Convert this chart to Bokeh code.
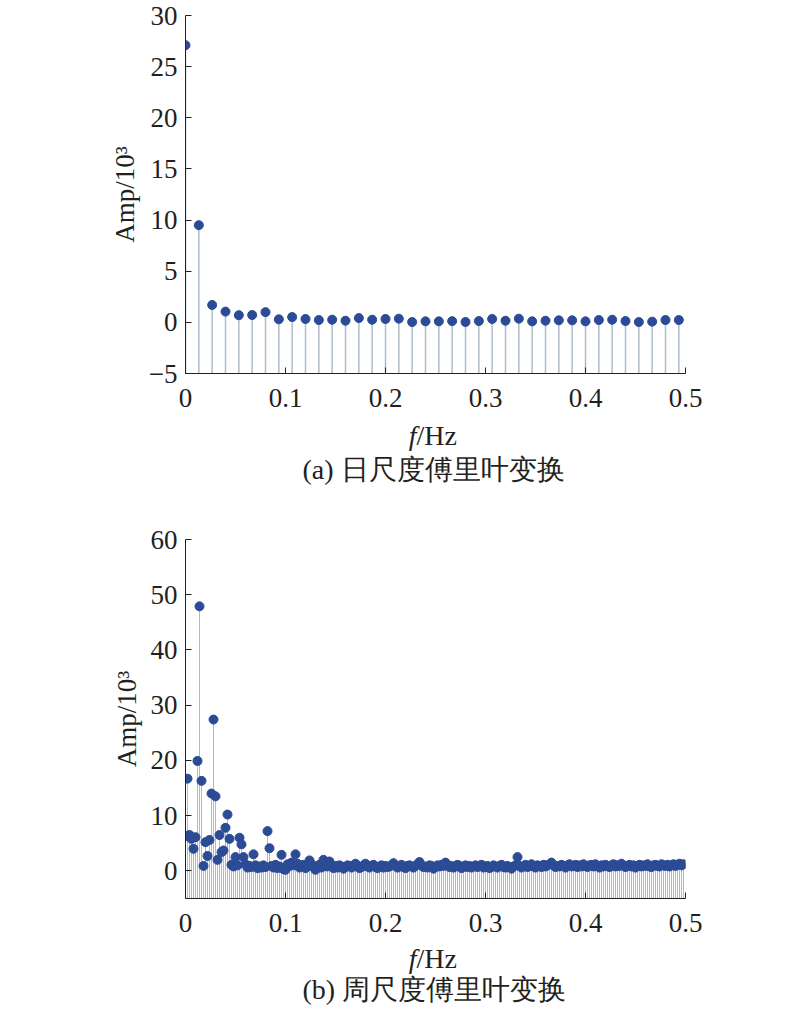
from bokeh.plotting import figure
from bokeh.models import FixedTicker, CustomJSTickFormatter, Range1d, ColumnDataSource
from bokeh.layouts import column
from bokeh.embed import file_html
from bokeh.resources import INLINE
from bokeh.core.properties import value

# ---- data ----
daily_step = 1 / 75
daily_amp = [27.1, 9.5, 1.7, 1.05, 0.7, 0.72, 1.0, 0.3, 0.52, 0.33,
             0.23, 0.26, 0.16, 0.42, 0.26, 0.33, 0.36, 0.03, 0.1, 0.1,
             0.12, 0.04, 0.13, 0.33, 0.16, 0.36, 0.1, 0.16, 0.2, 0.2,
             0.1, 0.23, 0.26, 0.13, 0.03, 0.07, 0.23, 0.23]

weekly_step = 0.002
weekly_amp = [
    6.3, 16.7, 6.5, 5.8, 4.0, 6.1, 19.9, 47.9, 16.3, 0.9,
    5.2, 2.7, 5.6, 14.0, 27.4, 13.5, 2.0, 6.5, 3.4, 3.7,
    7.8, 10.2, 5.8, 1.1, 0.8, 2.5, 1.0, 6.0, 4.8, 2.5,
    1.2, 0.6, 0.9, 0.7, 3.0, 1.0, 0.5, 0.8, 0.6, 1.0,
    0.7, 7.2, 4.1, 0.9, 0.6, 1.1, 0.5, 0.8, 2.9, 0.3,
    0.2, 1.2, 0.9, 1.5, 1.0, 3.0, 1.3, 0.6, 0.9, 1.1,
    0.5, 0.8, 1.9, 1.2, 0.7, 0.2, 0.9, 1.1, 0.6, 2.0,
    1.0, 0.8, 1.7, 1.1, 0.5, 0.9, 0.6, 1.0, 0.8, 0.4,
    0.7, 1.0, 0.9, 0.6, 0.8, 1.3, 0.9, 0.5, 0.7, 1.0,
    1.3, 0.8, 0.6, 0.9, 1.1, 0.7, 0.5, 0.8, 1.0, 0.6,
    0.9, 0.7, 0.8, 1.0, 1.4, 0.9, 0.6, 0.8, 1.1, 0.7,
    0.5, 0.9, 1.0, 0.8, 0.6, 0.9, 1.2, 1.6, 1.0, 0.7,
    0.8, 0.6, 1.0, 0.9, 0.4, 0.7, 1.0, 0.8, 1.1, 0.9,
    1.5, 1.0, 0.7, 0.9, 0.6, 0.8, 1.1, 0.9, 0.5, 0.8,
    1.0, 0.7, 0.9, 0.6, 0.8, 1.0, 0.7, 0.9, 1.1, 0.6,
    0.8, 0.9, 0.5, 0.7, 1.0, 0.8, 0.6, 0.9, 1.1, 0.7,
    0.6, 0.9, 0.7, 0.4, 0.8, 1.0, 2.5, 0.9, 0.6, 0.8,
    1.1, 0.7, 0.9, 1.2, 0.8, 0.6, 1.0, 0.9, 0.7, 1.1,
    0.8, 1.0, 1.2, 1.5, 1.0, 0.7, 0.9, 0.8, 1.1, 0.9,
    0.6, 1.0, 1.2, 0.8, 0.9, 1.1, 0.7, 1.0, 0.8, 1.2,
    0.9, 0.7, 1.0, 1.1, 0.8, 1.2, 0.9, 0.6, 1.0, 0.8,
    1.1, 0.9, 0.7, 1.0, 1.2, 0.8, 1.0, 0.9, 1.3, 1.0,
    0.7, 0.9, 1.1, 0.8, 1.0, 0.6, 0.9, 1.1, 0.8, 1.0,
    0.9, 1.2, 0.8, 0.7, 1.0, 1.1, 0.9, 0.8, 1.2, 1.0,
    0.9, 1.1, 0.8, 1.0, 1.2, 0.9, 1.1, 1.3, 1.0, 1.2,
]

x_ticks = [0, 0.1, 0.2, 0.3, 0.4, 0.5]
daily_y_ticks = [-5, 0, 5, 10, 15, 20, 25, 30]
weekly_y_ticks = [0, 10, 20, 30, 40, 50, 60]

x_label_italic = "f"
x_label_rest = "/Hz"
y_label = "Amp/10³"
caption_a = "(a) 日尺度傅里叶变换"
caption_b = "(b) 周尺度傅里叶变换"

# ---- styles ----
SERIF = "Liberation Serif"
DOT = "#2c4b96"
STEM = "#aebacb"
INK = "#231f20"


def make_panel(step, amp, ymin, ymax, yticks, height, top, bottom, stem_w):
    freq = [i * step for i in range(len(amp))]
    src = ColumnDataSource(dict(f=freq, a=amp, base=[ymin] * len(amp)))
    p = figure(width=800, height=height, output_backend="svg", toolbar_location=None,
               x_range=Range1d(0, 0.5), y_range=Range1d(ymin, ymax),
               min_border_left=185, min_border_right=115,
               min_border_top=top, min_border_bottom=bottom)
    p.outline_line_color = None
    p.xgrid.visible = False
    p.ygrid.visible = False
    p.background_fill_color = "white"
    p.border_fill_color = "white"

    p.segment(x0="f", y0="base", x1="f", y1="a", source=src,
              line_color=STEM, line_width=stem_w)
    p.scatter(x="f", y="a", source=src, size=9, fill_color=DOT, line_color=DOT)

    for ax in (p.xaxis[0], p.yaxis[0]):
        ax.major_tick_in = 6
        ax.major_tick_out = 0
        ax.minor_tick_in = 0
        ax.minor_tick_out = 0
        ax.axis_line_color = INK
        ax.major_tick_line_color = INK
        ax.major_label_text_font = SERIF
        ax.major_label_text_font_size = "27px"
        ax.major_label_text_color = INK

    p.xaxis.ticker = FixedTicker(ticks=x_ticks)
    p.xaxis.formatter = CustomJSTickFormatter(code="return String(Math.round(tick*10)/10);")
    p.xaxis.major_label_standoff = 15

    p.yaxis.ticker = FixedTicker(ticks=yticks)
    p.yaxis.formatter = CustomJSTickFormatter(code="return String(tick).replace('-', '\u2212');")
    p.yaxis.major_label_standoff = 8
    p.yaxis.axis_label = y_label
    p.yaxis.axis_label_text_font = SERIF
    p.yaxis.axis_label_text_font_style = "normal"
    p.yaxis.axis_label_text_font_size = "27px"
    p.yaxis.axis_label_text_color = INK
    p.yaxis.axis_label_standoff = 6
    return p


def make_caption(height, fhz_base, cap_base, caption):
    # strip below a panel; same horizontal frame as the panels (x in Hz), y in pixels from the top
    t = figure(width=800, height=height, output_backend="svg", toolbar_location=None,
               title=None, x_range=Range1d(0, 0.5), y_range=Range1d(height, 0),
               min_border_left=185, min_border_right=115,
               min_border_top=0, min_border_bottom=0,
               x_axis_location=None, y_axis_location=None)
    t.outline_line_color = None
    t.xgrid.visible = False
    t.ygrid.visible = False
    t.border_fill_color = "white"
    t.background_fill_color = "white"
    t.text(x=[0.231], y=[fhz_base], text=[x_label_italic], text_font=value(SERIF),
           text_font_style="italic", text_font_size="28px", text_align="right",
           text_baseline="alphabetic", text_color=INK)
    t.text(x=[0.231], y=[fhz_base], text=[x_label_rest], text_font=value(SERIF),
           text_font_size="28px", text_align="left",
           text_baseline="alphabetic", text_color=INK)
    t.text(x=[0.117], y=[cap_base], text=[caption], text_font=value(SERIF),
           text_font_size="28px", text_align="left",
           text_baseline="alphabetic", text_color=INK)
    return t


p1 = make_panel(daily_step, daily_amp, -5, 30, daily_y_ticks, 413, 15, 40, 1.5)
t1 = make_caption(95, 22, 56, caption_a)
p2 = make_panel(weekly_step, weekly_amp, -5, 60, weekly_y_ticks, 430, 31, 40, 1.0)
t2 = make_caption(75, 20, 51, caption_b)

layout = column(p1, t1, p2, t2, spacing=0)
open("out.html", "w").write(file_html(layout, INLINE))
